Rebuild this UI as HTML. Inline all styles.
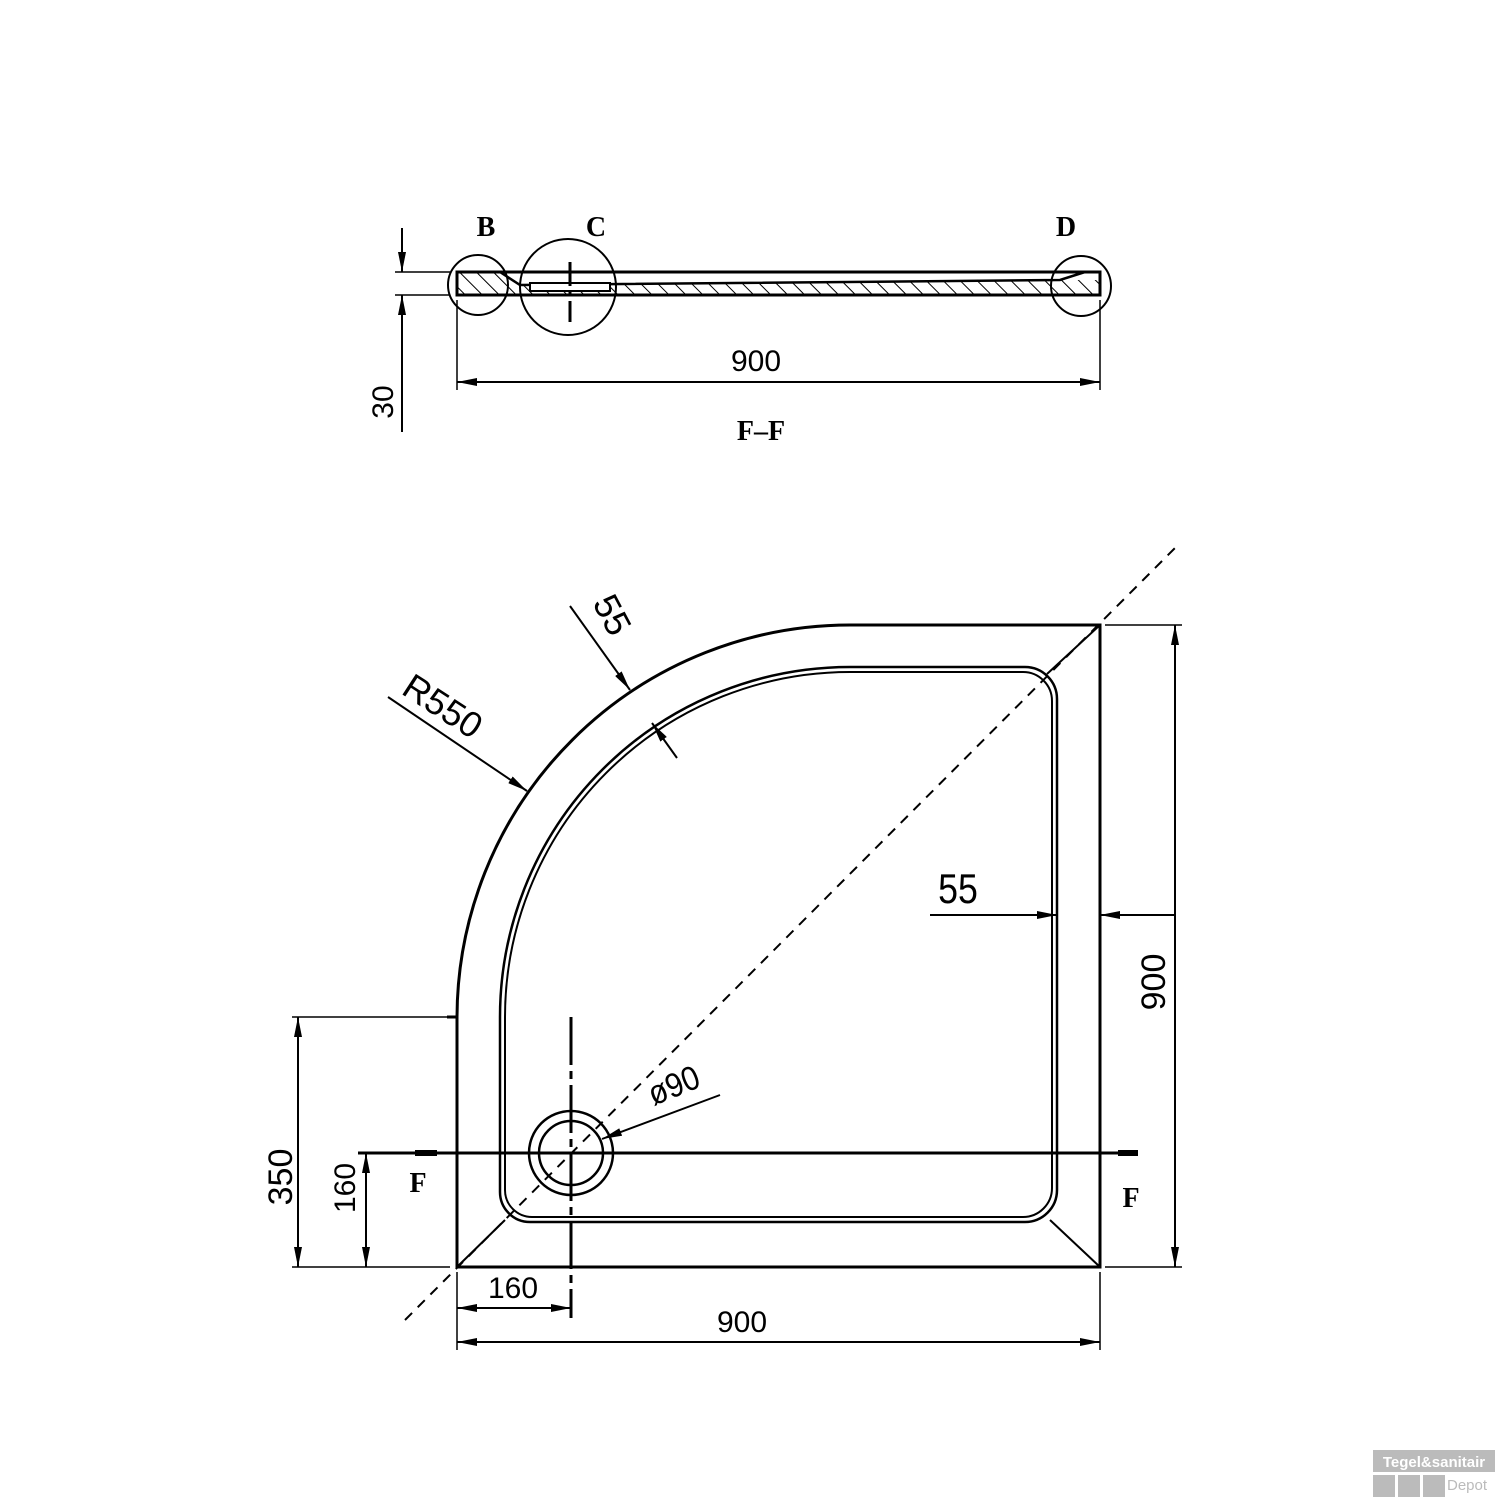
<!DOCTYPE html>
<html><head><meta charset="utf-8"><style>
html,body{margin:0;padding:0;background:#fff;}
svg{display:block;}
text{font-family:"Liberation Sans",sans-serif;fill:#000;}
.b{font-family:"Liberation Serif",serif;font-weight:bold;}
</style></head><body>
<svg width="1500" height="1500" viewBox="0 0 1500 1500" xmlns="http://www.w3.org/2000/svg">
<defs>
<marker id="ar" viewBox="0 0 20 8" refX="20" refY="4" markerWidth="20" markerHeight="8" markerUnits="userSpaceOnUse" orient="auto">
<path d="M0,0 L20,4 L0,8 Z" fill="#000"/></marker>
<pattern id="hat" width="12" height="12" patternUnits="userSpaceOnUse" patternTransform="rotate(-45)">
<line x1="0" y1="0" x2="0" y2="12" stroke="#000" stroke-width="2"/></pattern>
</defs>
<g fill="none" stroke="#000">
<!-- TOP SECTION -->
<rect x="457" y="272" width="643" height="23" stroke-width="3"/>
<path d="M520,285 L1060,280 L1100,280 L1100,295 L457,295 L457,272 L500,272 Z" fill="url(#hat)" stroke="none"/>
<path d="M500,272 L520,285 L1060,280 L1085,272" stroke-width="2.5"/>
<rect x="530" y="283" width="80" height="8" fill="#fff" stroke-width="2"/>
<circle cx="478" cy="285" r="30" stroke-width="2"/>
<circle cx="568" cy="287" r="48" stroke-width="2"/>
<circle cx="1081" cy="286" r="30" stroke-width="2"/>
<line x1="570" y1="262" x2="570" y2="322" stroke-width="3" stroke-dasharray="24,5,5,5"/>
<line x1="395" y1="272" x2="450" y2="272" stroke-width="1.5"/>
<line x1="395" y1="295" x2="450" y2="295" stroke-width="1.5"/>
<line x1="402" y1="228" x2="402" y2="272" stroke-width="2" marker-end="url(#ar)"/>
<line x1="402" y1="432" x2="402" y2="295" stroke-width="2" marker-end="url(#ar)"/>
<line x1="457" y1="300" x2="457" y2="390" stroke-width="1.5"/>
<line x1="1100" y1="300" x2="1100" y2="390" stroke-width="1.5"/>
<line x1="480" y1="382" x2="457" y2="382" stroke-width="2" marker-end="url(#ar)"/>
<line x1="480" y1="382" x2="1100" y2="382" stroke-width="2" marker-end="url(#ar)"/>

<!-- PLAN -->
<path d="M447,1017 L457,1017 A393,393 0 0 1 850,625 L1100,625 L1100,1267 L457,1267 L457,1017" stroke-width="3"/>
<path d="M500,1017 A350,350 0 0 1 850,667 L1025,667 A32,32 0 0 1 1057,699 L1057,1190 A32,32 0 0 1 1025,1222 L530,1222 A30,30 0 0 1 500,1192 Z" stroke-width="2.5"/>
<path d="M505,1017 A345,345 0 0 1 850,672 L1023,672 A29,29 0 0 1 1052,701 L1052,1188 A29,29 0 0 1 1023,1217 L532,1217 A27,27 0 0 1 505,1190 Z" stroke-width="2"/>
<line x1="1100" y1="625" x2="1047" y2="674" stroke-width="2"/>
<line x1="457" y1="1267" x2="505" y2="1220" stroke-width="2"/>
<line x1="1100" y1="1267" x2="1050" y2="1220" stroke-width="2"/>
<line x1="405" y1="1320" x2="1175" y2="548" stroke-width="2" stroke-dasharray="10,8"/>
<!-- drain -->
<circle cx="571" cy="1153" r="42" stroke-width="2.5"/>
<circle cx="571" cy="1153" r="32" stroke-width="2.5"/>
<line x1="571" y1="1017" x2="571" y2="1318" stroke-width="3" stroke-dasharray="48,6,8,6"/>
<line x1="358" y1="1153" x2="1138" y2="1153" stroke-width="3"/>
<line x1="415" y1="1153" x2="437" y2="1153" stroke-width="6"/>
<line x1="1118" y1="1153" x2="1138" y2="1153" stroke-width="6"/>
<line x1="720" y1="1095" x2="602" y2="1139" stroke-width="2" marker-end="url(#ar)"/>
<!-- R550 / 55 leaders -->
<line x1="388" y1="697" x2="527" y2="791" stroke-width="2" marker-end="url(#ar)"/>
<line x1="570" y1="606" x2="630" y2="690" stroke-width="2" marker-end="url(#ar)"/>
<line x1="677" y1="758" x2="652" y2="723" stroke-width="2" marker-end="url(#ar)"/>
<!-- 55 right -->
<line x1="930" y1="915" x2="1057" y2="915" stroke-width="2" marker-end="url(#ar)"/>
<line x1="1175" y1="915" x2="1100" y2="915" stroke-width="2" marker-end="url(#ar)"/>
<!-- right 900 -->
<line x1="1105" y1="625" x2="1182" y2="625" stroke-width="1.5"/>
<line x1="1105" y1="1267" x2="1182" y2="1267" stroke-width="1.5"/>
<line x1="1175" y1="900" x2="1175" y2="625" stroke-width="2" marker-end="url(#ar)"/>
<line x1="1175" y1="900" x2="1175" y2="1267" stroke-width="2" marker-end="url(#ar)"/>
<!-- left dims -->
<line x1="292" y1="1017" x2="447" y2="1017" stroke-width="1.5"/>
<line x1="292" y1="1267" x2="450" y2="1267" stroke-width="1.5"/>
<line x1="360" y1="1153" x2="415" y2="1153" stroke-width="1.5"/>
<line x1="298" y1="1140" x2="298" y2="1017" stroke-width="2" marker-end="url(#ar)"/>
<line x1="298" y1="1140" x2="298" y2="1267" stroke-width="2" marker-end="url(#ar)"/>
<line x1="366" y1="1210" x2="366" y2="1153" stroke-width="2" marker-end="url(#ar)"/>
<line x1="366" y1="1210" x2="366" y2="1267" stroke-width="2" marker-end="url(#ar)"/>
<!-- bottom dims -->
<line x1="457" y1="1272" x2="457" y2="1350" stroke-width="1.5"/>
<line x1="1100" y1="1272" x2="1100" y2="1350" stroke-width="1.5"/>
<line x1="520" y1="1308" x2="457" y2="1308" stroke-width="2" marker-end="url(#ar)"/>
<line x1="520" y1="1308" x2="571" y2="1308" stroke-width="2" marker-end="url(#ar)"/>
<line x1="700" y1="1342" x2="457" y2="1342" stroke-width="2" marker-end="url(#ar)"/>
<line x1="700" y1="1342" x2="1100" y2="1342" stroke-width="2" marker-end="url(#ar)"/>
</g>
<!-- text -->
<text class="b" x="486" y="236" font-size="28" text-anchor="middle">B</text>
<text class="b" x="596" y="236" font-size="28" text-anchor="middle">C</text>
<text class="b" x="1066" y="236" font-size="28" text-anchor="middle">D</text>
<text x="756" y="371" font-size="30" text-anchor="middle">900</text>
<text class="b" x="761" y="440" font-size="28" text-anchor="middle">F–F</text>
<text x="0" y="0" font-size="30" text-anchor="middle" transform="translate(393,402) rotate(-90)">30</text>
<text x="0" y="0" font-size="36" transform="translate(400,693) rotate(33)">R550</text>
<text x="0" y="0" font-size="36" transform="translate(592,603) rotate(62)">55</text>
<text x="958" y="903" font-size="42" text-anchor="middle" transform="translate(958,0) scale(0.85,1) translate(-958,0)">55</text>
<text x="0" y="0" font-size="34" text-anchor="middle" transform="translate(1165,982) rotate(-90)">900</text>
<text x="0" y="0" font-size="34" text-anchor="middle" transform="translate(678,1096) rotate(-22) scale(0.9,1)">ø90</text>
<text class="b" x="418" y="1192" font-size="28" text-anchor="middle">F</text>
<text class="b" x="1131" y="1207" font-size="28" text-anchor="middle">F</text>
<text x="0" y="0" font-size="34" text-anchor="middle" transform="translate(292,1177) rotate(-90)">350</text>
<text x="0" y="0" font-size="30" text-anchor="middle" transform="translate(355,1188) rotate(-90)">160</text>
<text x="513" y="1298" font-size="30" text-anchor="middle">160</text>
<text x="742" y="1332" font-size="30" text-anchor="middle">900</text>
<!-- watermark -->
<rect x="1373" y="1450" width="122" height="22" fill="#bbb"/>
<text x="1434" y="1467" font-size="15" font-weight="bold" text-anchor="middle" style="fill:#fff">Tegel&amp;sanitair</text>
<rect x="1373" y="1475" width="22" height="22" fill="#bbb"/>
<rect x="1398" y="1475" width="22" height="22" fill="#bbb"/>
<rect x="1423" y="1475" width="22" height="22" fill="#bbb"/>
<text x="1447" y="1490" font-size="15" style="fill:#bbb">Depot</text>
</svg>
</body></html>
